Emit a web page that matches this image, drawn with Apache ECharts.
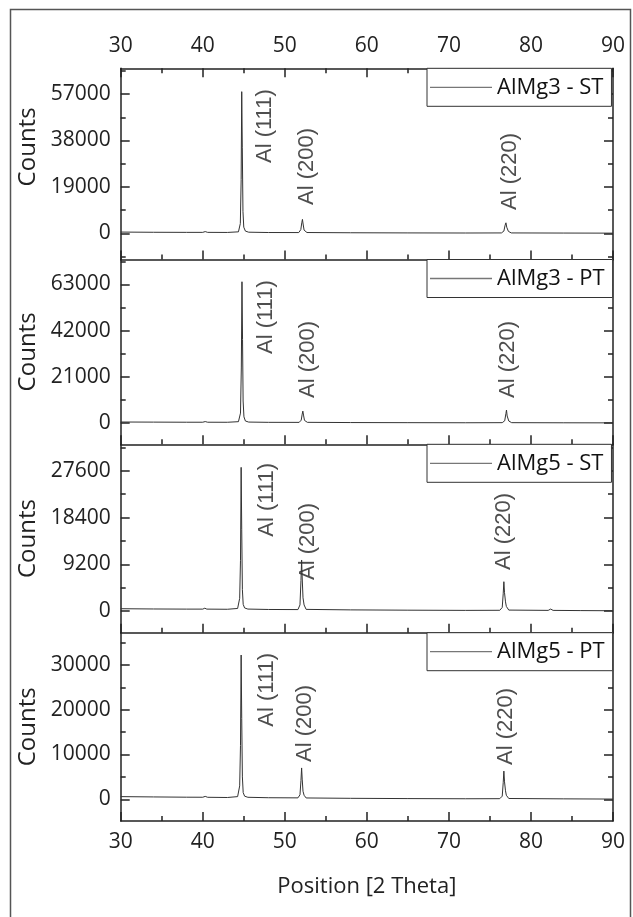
<!DOCTYPE html>
<html><head><meta charset="utf-8">
<script src="https://cdn.jsdelivr.net/npm/echarts@6/dist/echarts.min.js"></script>
<style>html,body{margin:0;padding:0;background:#fff}#c{width:633px;height:917px}</style>
</head><body><div id="c"></div>
<script>
// ---------------- data ----------------
const panelNames = ['AlMg3 - ST', 'AlMg3 - PT', 'AlMg5 - ST', 'AlMg5 - PT'];
const xTickValues = [30, 40, 50, 60, 70, 80, 90];
const peakNames = ['Al (111)', 'Al (200)', 'Al (220)'];

const x_AlMg3_ST = [30, 34, 38, 40.0, 40.3, 40.6, 43, 44.35, 44.58, 44.68, 44.75, 44.82, 44.9, 45.0, 45.2, 45.6, 48, 51.7, 51.95, 52.07, 52.15, 52.23, 52.35, 52.7, 58, 65, 72, 76.4, 76.7, 76.85, 76.95, 77.05, 77.25, 77.6, 84, 90];
const y_AlMg3_ST = [500, 420, 380, 380, 700, 380, 350, 600, 4000, 22000, 58000, 35000, 9000, 2500, 900, 450, 320, 300, 1500, 4300, 5700, 3800, 1300, 320, 220, 160, 120, 150, 900, 3300, 4300, 2500, 800, 150, 100, 60];

const x_AlMg3_PT = [30, 34, 38, 40.0, 40.3, 40.6, 43, 44.35, 44.6, 44.7, 44.78, 44.85, 44.92, 45.02, 45.2, 45.6, 48, 51.75, 52.0, 52.12, 52.2, 52.28, 52.4, 52.75, 58, 65, 72, 76.5, 76.8, 76.95, 77.02, 77.1, 77.3, 77.65, 84, 90];
const y_AlMg3_PT = [450, 400, 350, 350, 650, 350, 330, 600, 4500, 25000, 64200, 38000, 10000, 2800, 900, 420, 300, 280, 1300, 4000, 5400, 3600, 1200, 300, 200, 150, 110, 150, 1000, 4300, 5900, 3200, 900, 150, 100, 60];

const x_AlMg5_ST = [30, 34, 38, 40.0, 40.25, 40.5, 43, 44.25, 44.5, 44.6, 44.68, 44.75, 44.83, 44.93, 45.1, 45.5, 48, 51.6, 51.85, 51.97, 52.05, 52.12, 52.22, 52.35, 52.6, 58, 65, 72, 76.2, 76.5, 76.62, 76.7, 76.78, 76.9, 77.0, 77.3, 82.1, 82.4, 82.7, 86, 90];
const y_AlMg5_ST = [450, 400, 370, 370, 550, 370, 340, 500, 2500, 10000, 28300, 16000, 4200, 1300, 600, 380, 300, 280, 1200, 6000, 10050, 6500, 2600, 1200, 320, 220, 160, 120, 140, 700, 3400, 5770, 3600, 1800, 900, 180, 120, 380, 120, 80, 50];

const x_AlMg5_PT = [30, 34, 38, 40.0, 40.3, 40.6, 43, 44.25, 44.5, 44.6, 44.68, 44.75, 44.83, 44.93, 45.1, 45.5, 48, 51.6, 51.85, 51.97, 52.05, 52.12, 52.22, 52.35, 52.6, 58, 65, 72, 76.2, 76.5, 76.62, 76.7, 76.78, 76.9, 77.0, 77.3, 84, 90];
const y_AlMg5_PT = [600, 530, 470, 460, 650, 450, 400, 600, 3000, 12000, 32200, 18000, 5000, 1500, 700, 450, 350, 320, 1000, 4200, 7000, 4500, 1800, 900, 300, 220, 160, 120, 140, 700, 3700, 6300, 3900, 1900, 900, 180, 100, 50];

const yRange_AlMg3_ST = [-10730, 67570];
const yRange_AlMg3_PT = [-9680, 74310];
const yRange_AlMg5_ST = [-4275, 32840];
const yRange_AlMg5_PT = [-4843, 37185];

const yMajor_AlMg3_ST = [0, 19000, 38000, 57000];
const yMajor_AlMg3_PT = [0, 21000, 42000, 63000];
const yMajor_AlMg5_ST = [0, 9200, 18400, 27600];
const yMajor_AlMg5_PT = [0, 10000, 20000, 30000];

const yMinor_AlMg3_ST = [-9500, 9500, 28500, 47500, 66500];
const yMinor_AlMg3_PT = [10500, 31500, 52500, 73500];
const yMinor_AlMg5_ST = [4600, 13800, 23000, 32200];
const yMinor_AlMg5_PT = [5000, 15000, 25000, 35000];

// annotation anchors (data units): start of the rotated peak label
const labelX_AlMg3_ST = [47.6, 52.67, 77.45];
const labelY_AlMg3_ST = [28790, 11590, 9540];
const labelX_AlMg3_PT = [47.7, 52.83, 77.2];
const labelY_AlMg3_PT = [31360, 11360, 11360];
const labelX_AlMg5_ST = [47.8, 52.8, 76.7];
const labelY_AlMg5_ST = [14640, 6100, 8080];
const labelX_AlMg5_PT = [47.8, 52.5, 76.9];
const labelY_AlMg5_PT = [16200, 8330, 7660];

// ---------------- layout / style ----------------
const panels = [
  {x: x_AlMg3_ST, y: y_AlMg3_ST, range: yRange_AlMg3_ST, major: yMajor_AlMg3_ST, minor: yMinor_AlMg3_ST, lx: labelX_AlMg3_ST, ly: labelY_AlMg3_ST},
  {x: x_AlMg3_PT, y: y_AlMg3_PT, range: yRange_AlMg3_PT, major: yMajor_AlMg3_PT, minor: yMinor_AlMg3_PT, lx: labelX_AlMg3_PT, ly: labelY_AlMg3_PT},
  {x: x_AlMg5_ST, y: y_AlMg5_ST, range: yRange_AlMg5_ST, major: yMajor_AlMg5_ST, minor: yMinor_AlMg5_ST, lx: labelX_AlMg5_ST, ly: labelY_AlMg5_ST},
  {x: x_AlMg5_PT, y: y_AlMg5_PT, range: yRange_AlMg5_PT, major: yMajor_AlMg5_PT, minor: yMinor_AlMg5_PT, lx: labelX_AlMg5_PT, ly: labelY_AlMg5_PT}
];
const gridTop = [68.3, 259.5, 444.3, 632.7];
const gridBottom = [259.5, 444.3, 632.7, 821];
const plotLeft = 120.7, plotWidth = 492.3;
const AX = '#222';
const FONT = 'Open Sans';

const grid = [], xAxis = [], yAxis = [], series = [], legend = [];
panels.forEach((p, i) => {
  grid.push({left: plotLeft, width: plotWidth, top: gridTop[i], height: gridBottom[i] - gridTop[i], containLabel: false});
  xAxis.push({
    type: 'value', gridIndex: i, min: 30, max: 90, interval: 10, position: 'bottom',
    axisLine: {show: true, onZero: false, lineStyle: {color: AX, width: 1.5}},
    axisTick: {show: true, inside: true, length: 9, lineStyle: {color: AX, width: 1.5}},
    minorTick: {show: true, splitNumber: 2, length: 5, lineStyle: {color: AX, width: 1.5}},
    splitLine: {show: false}, minorSplitLine: {show: false},
    axisLabel: {show: i === 3, fontSize: 21, fontFamily: FONT, color: AX, margin: 11, formatter: v => String(v)},
    name: i === 3 ? 'Position [2 Theta]' : '', nameLocation: 'middle', nameGap: 55,
    nameTextStyle: {fontSize: 22, fontFamily: FONT, color: AX}
  });
  const yBase = {type: 'value', gridIndex: i, min: p.range[0], max: p.range[1], splitLine: {show: false}};
  yAxis.push(Object.assign({}, yBase, {
    position: 'left',
    axisLine: {show: true, onZero: false, lineStyle: {color: AX, width: 1.5}},
    axisTick: {show: true, inside: true, length: 9, customValues: p.major, lineStyle: {color: AX, width: 1.5}},
    axisLabel: {show: true, customValues: p.major, fontSize: 21, fontFamily: FONT, color: AX, margin: 10, formatter: v => String(v)},
    name: 'Counts', nameLocation: 'middle', nameGap: 71, nameRotate: 90,
    nameTextStyle: {fontSize: 24, fontFamily: FONT, color: AX, padding: i === 0 ? [0, 0, 0, 34] : 0}
  }));
  yAxis.push(Object.assign({}, yBase, {
    position: 'left',
    axisLine: {show: false},
    axisTick: {show: true, inside: true, length: 5, customValues: p.minor, lineStyle: {color: AX, width: 1.5}},
    axisLabel: {show: false}
  }));
  yAxis.push(Object.assign({}, yBase, {
    position: 'right',
    axisLine: {show: true, onZero: false, lineStyle: {color: AX, width: 1.5}},
    axisTick: {show: true, inside: true, length: 9, customValues: p.major, lineStyle: {color: AX, width: 1.5}},
    axisLabel: {show: false}
  }));
  yAxis.push(Object.assign({}, yBase, {
    position: 'right',
    axisLine: {show: false},
    axisTick: {show: true, inside: true, length: 5, customValues: p.minor, lineStyle: {color: AX, width: 1.5}},
    axisLabel: {show: false}
  }));
  series.push({
    name: panelNames[i], type: 'line', xAxisIndex: i, yAxisIndex: 4 * i,
    data: p.x.map((xv, k) => [xv, p.y[k]]),
    showSymbol: false, symbol: 'none', lineStyle: {color: '#333', width: 1}, itemStyle: {color: '#333'},
    z: 3, silent: true
  });
  series.push({
    name: 'peaks' + i, type: 'scatter', xAxisIndex: i, yAxisIndex: 4 * i,
    data: p.lx.map((xv, k) => ({value: [xv, p.ly[k]], name: peakNames[k]})),
    symbolSize: 0, silent: true,
    label: {show: true, position: 'inside', formatter: '{b}', rotate: 90, align: 'left', verticalAlign: 'middle',
      fontSize: 22, fontFamily: 'Liberation Sans', color: '#222'}
  });
  legend.push({
    data: [panelNames[i]], left: 427, top: gridTop[i], orient: 'horizontal',
    icon: 'rect', itemWidth: 62, itemHeight: 1.3, itemGap: 0,
    padding: [7, 8, 7, 3], borderColor: '#333', borderWidth: 1, borderRadius: 0, backgroundColor: '#fff',
    textStyle: {fontSize: 22, fontFamily: FONT, color: '#111', lineHeight: 24},
    itemStyle: {color: '#777'}, selectedMode: false
  });
});
// top axis of the first panel
xAxis.push({
  type: 'value', gridIndex: 0, min: 30, max: 90, interval: 10, position: 'top',
  axisLine: {show: true, onZero: false, lineStyle: {color: AX, width: 1.5}},
  axisTick: {show: true, inside: true, length: 9, lineStyle: {color: AX, width: 1.5}},
  minorTick: {show: true, splitNumber: 2, length: 5, lineStyle: {color: AX, width: 1.5}},
  splitLine: {show: false},
  axisLabel: {show: true, fontSize: 21, fontFamily: FONT, color: AX, margin: 12, formatter: v => String(v)}
});

const chart = echarts.init(document.getElementById('c'), null, {renderer: 'canvas'});
chart.setOption({
  animation: false,
  backgroundColor: '#fff',
  grid, xAxis, yAxis, series, legend,
  graphic: [{type: 'rect', shape: {x: 10.5, y: 9.5, width: 620, height: 940}, style: {fill: 'none', stroke: '#555', lineWidth: 1.5}, silent: true, z: -10}]
});
</script></body></html>
